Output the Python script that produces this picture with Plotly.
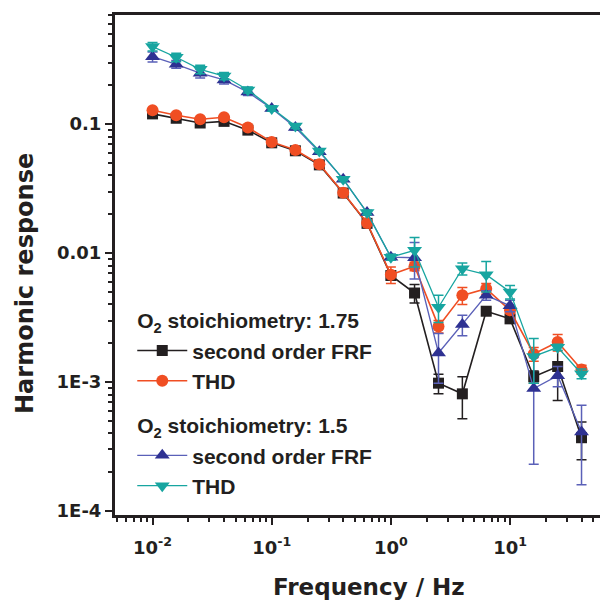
import plotly.graph_objects as go

# ---------------- data ----------------
freq = [0.01, 0.0158, 0.0251, 0.0398, 0.0631, 0.1, 0.158, 0.251, 0.398, 0.631,
        1.0, 1.58, 2.51, 3.98, 6.31, 10.0, 15.8, 25.1, 39.8]

s175_frf = [0.120, 0.111, 0.102, 0.105, 0.0898, 0.0716, 0.0621, 0.0483, 0.0292, 0.0170,
            0.0067, 0.0049, 0.00098, 0.00081, 0.00354, 0.00309, 0.00110, 0.00132, 0.00037]
s175_frf_err = [0.003, 0.003, 0.003, 0.003, 0.002, 0.002, 0.002, 0.001, 0.0008, 0.0005,
                0.0004, 0.0008, 0.00017, 0.00029, 0.0002, 0.0002, 0.00012, 0.0006, 0.00012]

s175_thd = [0.128, 0.117, 0.109, 0.113, 0.094, 0.0728, 0.063, 0.0489, 0.0294, 0.0171,
            0.0068, 0.0079, 0.0027, 0.0047, 0.0053, 0.0036, 0.00165, 0.00204, 0.00125]
s175_thd_err = [0.003, 0.003, 0.003, 0.003, 0.002, 0.002, 0.002, 0.001, 0.0008, 0.0005,
                0.001, 0.0006, 0.0003, 0.0007, 0.0005, 0.0002, 0.0002, 0.0003, 0.0001]

s15_frf = [0.333, 0.291, 0.248, 0.220, 0.177, 0.132, 0.094, 0.061, 0.0374, 0.0206,
           0.0093, 0.0092, 0.00168, 0.00279, 0.0047, 0.0039, 0.00089, 0.00112, 0.00041]
s15_frf_err = [0.03, 0.02, 0.02, 0.015, 0.01, 0.006, 0.004, 0.002, 0.001, 0.0008,
               0.0005, 0.0029, 0.0007, 0.0005, 0.0004, 0.0004, 0.00066, 0.0002, 0.00025]

s15_thd = [0.399, 0.330, 0.266, 0.236, 0.184, 0.132, 0.0965, 0.062, 0.0374, 0.0206,
           0.0093, 0.0105, 0.0038, 0.00757, 0.0068, 0.0050, 0.00158, 0.00186, 0.00116]
s15_thd_err = [0.03, 0.025, 0.02, 0.015, 0.01, 0.006, 0.004, 0.002, 0.001, 0.0008,
               0.0005, 0.0027, 0.0009, 0.0008, 0.0018, 0.0006, 0.0006, 0.0001, 0.0001]

x_tickvals = [0.01, 0.1, 1, 10]
x_ticktext = ["10<sup>-2</sup>", "10<sup>-1</sup>", "10<sup>0</sup>", "10<sup>1</sup>"]
y_tickvals = [1e-4, 1e-3, 0.01, 0.1]
y_ticktext = ["1E-4", "1E-3", "0.01", "0.1"]

x_title = "Frequency / Hz"
y_title = "Harmonic response"
group1_title = "O<sub>2</sub> stoichiometry: 1.75"
group2_title = "O<sub>2</sub> stoichiometry: 1.5"

# ---------------- styles ----------------
AX = "#231f20"
BLACK = "#231f20"
ORANGE = "#f04e23"
BLUE_M = "#2e3192"
BLUE_L = "#5a60b8"
CYAN = "#17a5a0"

legend_font = dict(family="Liberation Sans, Arial", size=21, color=AX, weight="bold")
title_font = dict(family="DejaVu Sans", size=24, color=AX, weight="bold")


def minor_vals(lo_exp, hi_exp):
    out = []
    for e in range(lo_exp, hi_exp + 1):
        for m in range(2, 10):
            out.append(m * 10.0 ** e)
    return out


fig = go.Figure()

series = [
    (s175_frf, s175_frf_err, "second order FRF", "g1", group1_title, BLACK, BLACK, BLACK, "square", 11, 1.6),
    (s175_thd, s175_thd_err, "THD", "g1", group1_title, ORANGE, ORANGE, ORANGE, "circle", 12, 1.6),
    (s15_frf, s15_frf_err, "second order FRF", "g2", group2_title, BLUE_M, BLUE_L, BLUE_L, "triangle-up", 13, 1.3),
    (s15_thd, s15_thd_err, "THD", "g2", group2_title, CYAN, CYAN, CYAN, "triangle-down", 13, 1.3),
]

for y, err, name, grp, gtitle, mcol, lcol, ecol, sym, msize, lw in series:
    fig.add_trace(go.Scatter(
        x=freq, y=y, name=name, mode="lines+markers",
        legendgroup=grp,
        legendgrouptitle=dict(text=gtitle, font=legend_font),
        line=dict(color=lcol, width=lw),
        marker=dict(color=mcol, symbol=sym, size=msize, line=dict(width=0)),
        error_y=dict(type="data", array=err, visible=True, color=ecol, thickness=1.5, width=5),
    ))

axis_common = dict(
    type="log",
    showline=True, linewidth=3, linecolor=AX,
    ticks="outside", ticklen=7, tickwidth=2, tickcolor=AX,
    showgrid=False, zeroline=False, automargin=False,
    tickfont=dict(family="DejaVu Sans", size=18, color=AX, weight="bold"),
)

fig.update_xaxes(
    **axis_common,
    range=[-2.315, 1.822],
    mirror=True,
    ticklabelstandoff=7,
    tickmode="array", tickvals=x_tickvals, ticktext=x_ticktext,
    minor=dict(ticks="outside", ticklen=4, tickwidth=2, tickcolor=AX,
               tickmode="array", tickvals=minor_vals(-3, 1)),
)
fig.update_yaxes(
    **axis_common,
    range=[-4.031, -0.154],
    tickmode="array", tickvals=y_tickvals, ticktext=y_ticktext,
    minor=dict(ticks="outside", ticklen=4, tickwidth=2, tickcolor=AX,
               tickmode="array", tickvals=minor_vals(-5, -1)),
)

# axis titles (placed as annotations to match the original offsets)
fig.add_annotation(text=x_title, xref="paper", yref="paper", x=0.515, y=-0.144,
                   xanchor="center", yanchor="middle", showarrow=False,
                   font=dict(title_font, size=23))
fig.add_annotation(text=y_title, xref="paper", yref="paper", x=-0.1826, y=0.464,
                   xanchor="center", yanchor="middle", showarrow=False, textangle=-90,
                   font=title_font)

fig.update_layout(
    width=600, height=592,
    margin=dict(l=107, r=0, t=7, b=85),
    paper_bgcolor="white", plot_bgcolor="white",
    showlegend=True,
    legend=dict(
        x=0.035, y=0.43, xanchor="left", yanchor="top",
        bgcolor="rgba(0,0,0,0)", borderwidth=0,
        font=legend_font, tracegroupgap=14, itemwidth=50,
        groupclick="toggleitem",
    ),
)

fig.write_html("out.html")
